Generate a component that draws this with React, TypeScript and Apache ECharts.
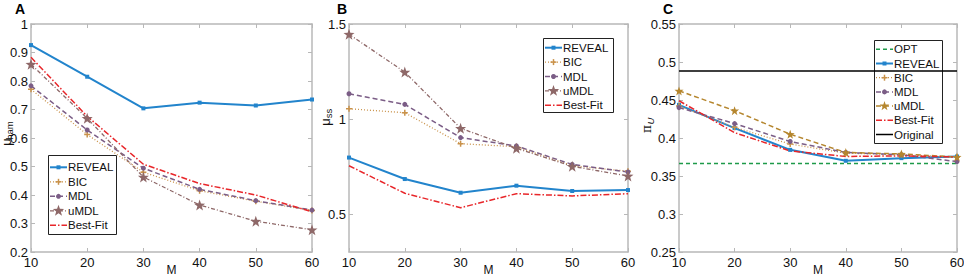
import React, { useEffect, useRef } from "react";
import * as echarts from "echarts";

// ---- data ----
const M = [10, 20, 30, 40, 50, 60];

// Panel A: mu_ham
const hamReveal = [0.926, 0.815, 0.704, 0.724, 0.714, 0.735];
const hamBIC = [0.771, 0.612, 0.48, 0.415, 0.378, 0.346];
const hamMDL = [0.783, 0.628, 0.494, 0.42, 0.38, 0.347];
const hamUMDL = [0.859, 0.669, 0.463, 0.365, 0.308, 0.278];
const hamBestFit = [0.883, 0.676, 0.508, 0.44, 0.4, 0.341];

// Panel B: mu_ss
const ssReveal = [0.797, 0.684, 0.612, 0.649, 0.621, 0.626];
const ssBIC = [1.054, 1.033, 0.87, 0.854, 0.754, 0.725];
const ssMDL = [1.133, 1.077, 0.902, 0.858, 0.761, 0.721];
const ssUMDL = [1.446, 1.247, 0.951, 0.846, 0.751, 0.7];
const ssBestFit = [0.754, 0.609, 0.533, 0.607, 0.595, 0.607];

// Panel C: pi_U
const piOPT = [0.3665, 0.3665, 0.3665, 0.3665, 0.3665, 0.3665];
const piReveal = [0.4436, 0.413, 0.3844, 0.37, 0.3735, 0.3757];
const piBIC = [0.442, 0.414, 0.392, 0.38, 0.378, 0.375];
const piMDL = [0.44, 0.419, 0.3954, 0.381, 0.378, 0.369];
const piUMDL = [0.462, 0.436, 0.405, 0.381, 0.379, 0.375];
const piBestFit = [0.449, 0.407, 0.383, 0.3757, 0.3765, 0.375];
const piOriginal = [0.488, 0.488, 0.488, 0.488, 0.488, 0.488];

const yTicksA = [0.2, 0.3, 0.4, 0.5, 0.6, 0.7, 0.8, 0.9, 1];
const yTicksB = [0.5, 1, 1.5];
const yTicksC = [0.25, 0.3, 0.35, 0.4, 0.45, 0.5, 0.55];

const legendA = ["REVEAL", "BIC", "MDL", "uMDL", "Best-Fit"];
const legendB = ["REVEAL", "BIC", "MDL", "uMDL", "Best-Fit"];
const legendC = ["OPT", "REVEAL", "BIC", "MDL", "uMDL", "Best-Fit", "Original"];

// ---- styles ----
const FONT = "Liberation Sans, Arial, Helvetica, sans-serif";
const STAR =
  "path://M0,-10 L2.35,-3.24 L9.51,-3.09 L3.8,1.24 L5.88,8.09 L0,4 L-5.88,8.09 L-3.8,1.24 L-9.51,-3.09 L-2.35,-3.24 Z";
const PLUS =
  "path://M-1,-4 L1,-4 L1,-1 L4,-1 L4,1 L1,1 L1,4 L-1,4 L-1,1 L-4,1 L-4,-1 L-1,-1 Z";
const STAR_PTS = [
  [0, -10], [2.35, -3.24], [9.51, -3.09], [3.8, 1.24], [5.88, 8.09],
  [0, 4], [-5.88, 8.09], [-3.8, 1.24], [-9.51, -3.09], [-2.35, -3.24],
];

const AXIS_GRAY = "#b8b8b8";

type Sty = { color: string; width: number; type: any; symbol: string; size: number; mk: string };

const sReveal: Sty = { color: "#2284cc", width: 2, type: "solid", symbol: "rect", size: 4, mk: "rect" };
const sBIC: Sty = { color: "#c9924a", width: 1.3, type: [1, 2], symbol: PLUS, size: 6, mk: "plus" };
const sMDL: Sty = { color: "#7b5d86", width: 1.5, type: [5, 3], symbol: "circle", size: 5, mk: "circle" };
const sUMDL: Sty = { color: "#8e6868", width: 1.3, type: [4, 2, 1, 2], symbol: STAR, size: 11, mk: "star" };
const sUMDLC: Sty = { color: "#b5862e", width: 1.5, type: [5, 3], symbol: STAR, size: 9, mk: "star" };
const sBest: Sty = { color: "#e8262a", width: 1.5, type: [6, 2, 1.5, 2], symbol: "none", size: 0, mk: "none" };
const sOPT: Sty = { color: "#1e9a4a", width: 1.5, type: [4, 3], symbol: "none", size: 0, mk: "none" };
const sOrig: Sty = { color: "#000000", width: 1.5, type: "solid", symbol: "none", size: 0, mk: "none" };

function mkSeries(name: string, vals: number[], st: Sty, axis: number) {
  return {
    type: "line",
    name,
    xAxisIndex: axis,
    yAxisIndex: axis,
    data: M.map((m, i) => [m, vals[i]]),
    symbol: st.symbol,
    symbolSize: st.size,
    showSymbol: st.symbol !== "none",
    lineStyle: { color: st.color, width: st.width, type: st.type },
    itemStyle: { color: st.color },
    z: 3,
  };
}

const grids = [
  { left: 31, top: 24, width: 281, height: 228 },
  { left: 349, top: 24, width: 279, height: 228 },
  { left: 679, top: 24, width: 278, height: 228 },
];

function xAxes(gi: number) {
  const common = {
    gridIndex: gi,
    type: "value",
    min: 10,
    max: 60,
    interval: 10,
    axisLine: { show: true, onZero: false, lineStyle: { color: AXIS_GRAY, width: 1.5 } },
    axisTick: { show: true, inside: true, length: 4, lineStyle: { color: AXIS_GRAY } },
    splitLine: { show: false },
  };
  return [
    {
      ...common,
      position: "bottom",
      axisLabel: { show: true, margin: 4, fontFamily: FONT, fontSize: 13, color: "#111" },
    },
    { ...common, position: "top", axisLabel: { show: false } },
  ];
}

function yAxes(gi: number, min: number, max: number, ticks: number[]) {
  const common = {
    gridIndex: gi,
    type: "value",
    min,
    max,
    axisLine: { show: true, onZero: false, lineStyle: { color: AXIS_GRAY, width: 1.5 } },
    axisTick: { show: true, inside: true, length: 4, lineStyle: { color: AXIS_GRAY }, customValues: ticks },
    splitLine: { show: false },
  };
  return [
    {
      ...common,
      position: "left",
      axisLabel: {
        show: true,
        margin: 3,
        fontFamily: FONT,
        fontSize: 13,
        color: "#111",
        customValues: ticks,
        formatter: (v: number) => String(+v.toFixed(2)),
      },
    },
    { ...common, position: "right", axisLabel: { show: false, customValues: ticks } },
  ];
}

function marker(kind: string, cx: number, cy: number, color: string, starR: number): any[] {
  if (kind === "rect") return [{ type: "rect", shape: { x: cx - 2, y: cy - 2, width: 4, height: 4 }, style: { fill: color } }];
  if (kind === "circle") return [{ type: "circle", shape: { cx, cy, r: 2.5 }, style: { fill: color } }];
  if (kind === "plus")
    return [
      { type: "line", shape: { x1: cx - 3, y1: cy, x2: cx + 3, y2: cy }, style: { stroke: color, lineWidth: 1.5 } },
      { type: "line", shape: { x1: cx, y1: cy - 3, x2: cx, y2: cy + 3 }, style: { stroke: color, lineWidth: 1.5 } },
    ];
  if (kind === "star")
    return [
      {
        type: "polygon",
        shape: { points: STAR_PTS.map(([px, py]) => [cx + (px * starR) / 10, cy + (py * starR) / 10]) },
        style: { fill: color },
      },
    ];
  return [];
}

function mkLegend(x: number, y: number, w: number, h: number, row0: number, step: number, names: string[], styles: Sty[], starR: number) {
  const children: any[] = [
    { type: "rect", shape: { x: x + 0.5, y: y + 0.5, width: w, height: h }, style: { fill: "#fff", stroke: "#222", lineWidth: 1 } },
  ];
  names.forEach((n, i) => {
    const st = styles[i];
    const cy = row0 + i * step;
    children.push({
      type: "line",
      shape: { x1: x + 2, y1: cy, x2: x + 19, y2: cy },
      style: { stroke: st.color, lineWidth: st.width, lineDash: st.type === "solid" ? null : st.type },
    });
    children.push(...marker(st.mk, x + 10.5, cy, st.color, starR));
    children.push({
      type: "text",
      x: x + 20,
      y: cy,
      style: { text: n, fontFamily: FONT, fontSize: 11.5, fill: "#111", verticalAlign: "middle", align: "left" },
    });
  });
  return { type: "group", z: 100, children };
}

// rotated label made of a main glyph plus a lowered (subscript) part
function yName(main: string, sub: string, x: number, yMain: number, ySub: number, serif: boolean, italicSub: boolean) {
  return [
    {
      type: "text",
      x,
      y: yMain,
      rotation: Math.PI / 2,
      style: {
        text: main,
        fontFamily: serif ? "DejaVu Serif, serif" : FONT,
        fontSize: serif ? 12 : 13,
        lineHeight: 11,
        fill: "#111",
        align: "center",
        verticalAlign: "middle",
      },
    },
    {
      type: "text",
      x: x + 3.5,
      y: ySub,
      rotation: Math.PI / 2,
      style: {
        text: sub,
        fontFamily: FONT,
        fontSize: 9.5,
        lineHeight: 9,
        fontStyle: italicSub ? "italic" : "normal",
        fill: "#111",
        align: "center",
        verticalAlign: "middle",
      },
    },
  ];
}

function letter(t: string, x: number) {
  return { type: "text", x, y: 2, style: { text: t, fontFamily: FONT, fontSize: 14, fontWeight: "bold", fill: "#000", verticalAlign: "top" } };
}

function mName(x: number) {
  return { type: "text", x, y: 269.5, style: { text: "M", fontFamily: FONT, fontSize: 12, lineHeight: 12, fill: "#111", align: "center", verticalAlign: "middle" } };
}

export default function App() {
  const ref = useRef<HTMLDivElement>(null);
  useEffect(() => {
    if (!ref.current) return;
    const chart = echarts.init(ref.current, null, { renderer: "svg" });
    const option: any = {
      animation: false,
      backgroundColor: "#ffffff",
      grid: grids.map((g) => ({ ...g, containLabel: false, outerBoundsMode: "none" })),
      xAxis: [...xAxes(0), ...xAxes(1), ...xAxes(2)],
      yAxis: [...yAxes(0, 0.2, 1, yTicksA), ...yAxes(1, 0.3, 1.5, yTicksB), ...yAxes(2, 0.25, 0.55, yTicksC)],
      series: [
        mkSeries("A REVEAL", hamReveal, sReveal, 0),
        mkSeries("A BIC", hamBIC, sBIC, 0),
        mkSeries("A MDL", hamMDL, sMDL, 0),
        mkSeries("A uMDL", hamUMDL, sUMDL, 0),
        mkSeries("A Best-Fit", hamBestFit, sBest, 0),
        mkSeries("B REVEAL", ssReveal, sReveal, 2),
        mkSeries("B BIC", ssBIC, sBIC, 2),
        mkSeries("B MDL", ssMDL, sMDL, 2),
        mkSeries("B uMDL", ssUMDL, sUMDL, 2),
        mkSeries("B Best-Fit", ssBestFit, sBest, 2),
        mkSeries("C OPT", piOPT, sOPT, 4),
        mkSeries("C REVEAL", piReveal, sReveal, 4),
        mkSeries("C BIC", piBIC, sBIC, 4),
        mkSeries("C MDL", piMDL, sMDL, 4),
        mkSeries("C uMDL", piUMDL, sUMDLC, 4),
        mkSeries("C Best-Fit", piBestFit, sBest, 4),
        mkSeries("C Original", piOriginal, sOrig, 4),
      ],
      graphic: [
        letter("A", 15),
        letter("B", 337),
        letter("C", 663),
        ...yName("μ", "ham", 6, 142, 130.5, false, false),
        ...yName("μ", "ss", 325, 122, 113.5, false, false),
        ...yName("π", "U", 647, 129, 121, true, true),
        mName(171.5),
        mName(488.5),
        mName(818),
        mkLegend(48, 155, 68, 79, 167.3, 14.5, legendA, [sReveal, sBIC, sMDL, sUMDL, sBest], 6),
        mkLegend(543, 38, 70, 74, 47.7, 14.4, legendB, [sReveal, sBIC, sMDL, sUMDL, sBest], 6),
        mkLegend(874, 40, 68, 103, 49.3, 14.2, legendC, [sOPT, sReveal, sBIC, sMDL, sUMDLC, sBest, sOrig], 5),
      ],
    };
    chart.setOption(option);
    return () => chart.dispose();
  }, []);
  return <div ref={ref} style={{ position: "fixed", left: 0, top: 0, width: 964, height: 276, background: "#fff" }} />;
}
